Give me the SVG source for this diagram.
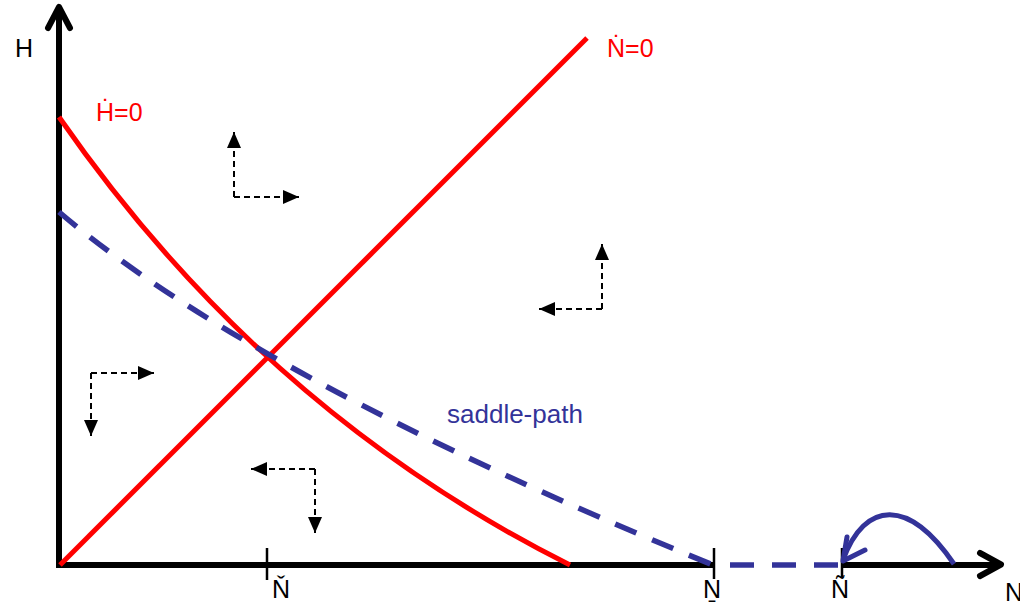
<svg xmlns="http://www.w3.org/2000/svg" width="1020" height="610" viewBox="0 0 1020 610">
<style>
text{font-family:"Liberation Sans","DejaVu Sans",Arial,sans-serif;font-size:25px}
.red{fill:#ff0000}
.blue{fill:#333399}
.axis{stroke:#000;stroke-width:6;fill:none}
.head{stroke:#000;stroke-width:6;fill:none;stroke-linecap:round;stroke-linejoin:round}
.tick{stroke:#000;stroke-width:2.5}
.curve{stroke:#ff0000;stroke-width:5;fill:none}
.saddle{stroke:#333399;stroke-width:5.5;fill:none;stroke-dasharray:23 17}
.small{stroke:#000;stroke-width:2;fill:none;stroke-dasharray:6 4;marker-end:url(#tri)}
</style>
<defs>
<marker id="tri" markerUnits="userSpaceOnUse" markerWidth="16" markerHeight="14" refX="16" refY="7" orient="auto" viewBox="0 0 16 14">
<path d="M0,0 L16,7 L0,14 Z" fill="#000"/>
</marker>
</defs>
<rect width="1020" height="610" fill="#fff"/>
<g id="axes">
<line class="axis" x1="59" y1="568" x2="59" y2="8"/>
<polyline class="head" points="48,28 59,7 70,28"/>
<line class="axis" x1="56" y1="565" x2="714" y2="565"/>
<line class="axis" x1="842" y1="565" x2="1000" y2="565"/>
<polyline class="head" points="980,553 1001,564.5 980,576"/>
<line class="tick" x1="267" y1="548" x2="267" y2="580"/>
<line class="tick" x1="714" y1="548" x2="714" y2="579"/>
<line class="tick" x1="842" y1="548" x2="842" y2="578"/>
<text x="15" y="57">H</text>
<text x="1005" y="601">N</text>
<text x="281" y="598" text-anchor="middle">Ň</text>
<text x="712" y="598" text-anchor="middle">Ṉ</text>
<text x="840" y="598" text-anchor="middle">Ñ</text>
</g>
<g id="n-dot-zero">
<line class="curve" x1="60" y1="565" x2="587" y2="38"/>
<text class="red" x="607" y="57">Ṅ=0</text>
</g>
<g id="h-dot-zero">
<path class="curve" d="M59,117 Q263,411 570,565"/>
<text class="red" x="96" y="121">Ḣ=0</text>
</g>
<g id="saddle-path">
<path class="saddle" d="M59,212 Q255,378 713,565"/>
<line class="saddle" x1="730" y1="565" x2="843" y2="565" style="stroke-dasharray:24 18"/>
<text class="blue" x="447" y="423" style="font-size:26px">saddle-path</text>
</g>
<g id="connectors">
<path d="M954,564 C909,498 865,500 843,560" stroke="#333399" stroke-width="5" fill="none"/>
<polyline points="847,537 843,561 865,550" stroke="#333399" stroke-width="5" fill="none" stroke-linecap="round" stroke-linejoin="round"/>
<line class="small" x1="234" y1="197" x2="234" y2="132"/>
<line class="small" x1="234" y1="197" x2="299" y2="197"/>
<line class="small" x1="602" y1="309" x2="602" y2="244"/>
<line class="small" x1="602" y1="309" x2="539" y2="309"/>
<line class="small" x1="91" y1="373" x2="154" y2="373"/>
<line class="small" x1="91" y1="373" x2="91" y2="436"/>
<line class="small" x1="315" y1="469" x2="251" y2="469"/>
<line class="small" x1="315" y1="469" x2="315" y2="533"/>
</g>
</svg>
